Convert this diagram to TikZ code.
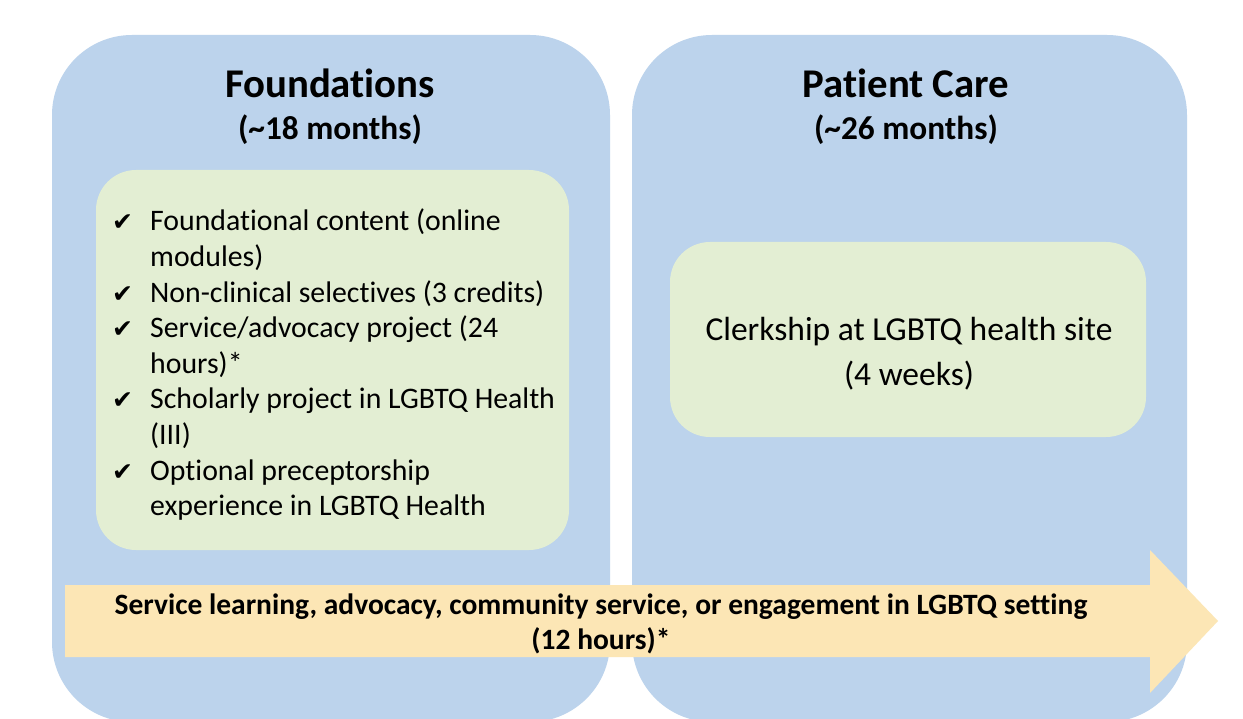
\documentclass[tikz,border=0pt]{standalone}
\usepackage{fontspec}
\setmainfont[Ligatures=NoCommon]{Carlito}
\newfontfamily\symfont{DejaVu Sans}
\definecolor{phaseblue}{HTML}{BCD3EC}
\definecolor{boxgreen}{HTML}{E3EED3}
\definecolor{arrowfill}{HTML}{FCE6B5}
\newcommand{\chk}{\makebox[38pt][l]{\symfont\fontsize{25}{25}\selectfont ✔}}
\begin{document}
\begin{tikzpicture}[x=1pt,y=-1pt,
  phase/.style={fill=phaseblue,rounded corners=80pt},
  inner/.style={fill=boxgreen,rounded corners=40pt},
  title/.style={font=\bfseries\fontsize{40.8}{48}\selectfont,inner sep=0pt,anchor=base},
  subtitle/.style={font=\bfseries\fontsize{33.3}{38}\selectfont,inner sep=0pt,anchor=base},
  body/.style={font=\fontsize{33.5}{40}\selectfont,inner sep=0pt,anchor=base},
  banner/.style={font=\bfseries\fontsize{29.5}{35}\selectfont,inner sep=0pt,anchor=base}]
\useasboundingbox (0,0) rectangle (1243,719);
\clip (0,0) rectangle (1243,719);
\fill[white] (0,0) rectangle (1243,719);
% phases
\fill[phase] (52,35) rectangle (610,722);
\fill[phase] (632,35) rectangle (1187,722);
% inner boxes
\fill[inner] (96,170) rectangle (569,550);
\fill[inner] (670,242) rectangle (1146,437);
% titles
\node[title] (t1) at (330,98) {Foundations};
\node[subtitle] (s1) at (330,140) {(\char`~18 months)};
\node[title] (t2) at (906,98) {Patient Care};
\node[subtitle] (s2) at (906,140) {(\char`~26 months)};
% list
\node[anchor=base west,inner sep=0pt,font=\fontsize{29.8}{35.6}\selectfont] (list) at (112,231) {%
\begin{tabular}[t]{@{}l@{}l@{}}
\chk & Foundational content (online\\
 & modules)\\
\chk & Non-clinical selectives (3 credits)\\
\chk & Service/advocacy project (24\\
 & hours)*\\
\chk & Scholarly project in LGBTQ Health\\
 & (III)\\
\chk & Optional preceptorship\\
 & experience in LGBTQ Health
\end{tabular}};
% clerkship
\node[body] (c1) at (909,341) {Clerkship at LGBTQ health site};
\node[body] (c2) at (909,386) {(4 weeks)};
% arrow
\fill[arrowfill] (65,585) -- (1150,585) -- (1150,550) -- (1218,621) -- (1150,693) -- (1150,657) -- (65,657) -- cycle;
\node[banner] (a1) at (601,614) {Service learning, advocacy, community service, or engagement in LGBTQ setting};
\node[banner] (a2) at (601,649) {(12 hours)*};
\end{tikzpicture}
\end{document}
